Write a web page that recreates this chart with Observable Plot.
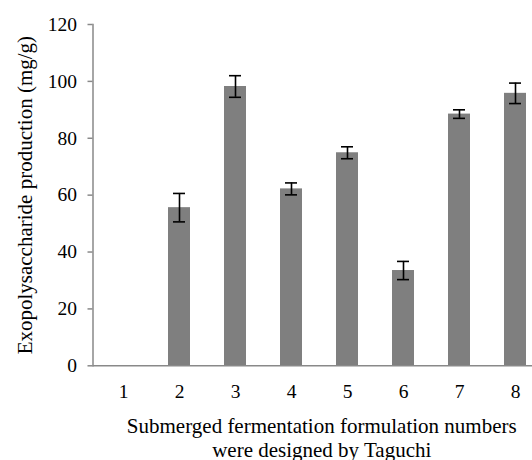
<!DOCTYPE html>
<html>
<head>
<meta charset="utf-8">
<script src="https://cdn.jsdelivr.net/npm/d3@7"></script>
<script src="https://cdn.jsdelivr.net/npm/@observablehq/plot@0.6"></script>
<style>
  html, body { margin: 0; padding: 0; background: #fff; }
  #chart { width: 532px; height: 460px; overflow: hidden; }
</style>
</head>
<body>
<div id="chart"></div>
<script>
const formulations = [1, 2, 3, 4, 5, 6, 7, 8];
const production = [0, 55.6, 98.2, 62.2, 74.9, 33.5, 88.5, 95.8];
const stdError = [0, 5.0, 3.8, 2.1, 2.1, 3.2, 1.5, 3.6];
const yTicks = [0, 20, 40, 60, 80, 100, 120];
const yTitle = "Exopolysaccharide production (mg/g)";
const xTitle = "Submerged fermentation formulation numbers\nwere designed by Taguchi";

const rows = formulations.map((f, i) => ({
  f, v: production[i], lo: production[i] - stdError[i], hi: production[i] + stdError[i], e: stdError[i]
}));
const errRows = rows.filter(d => d.e > 0);

const axisGray = "#898989";
const font = "'Liberation Serif', 'Times New Roman', serif";

const chart = Plot.plot({
  width: 532,
  height: 460,
  marginLeft: 92.5,
  marginRight: 0,
  marginTop: 24,
  marginBottom: 94.7,
  style: { fontFamily: font, fontSize: "19.5px", background: "#fff", color: "#000" },
  x: { type: "band", domain: formulations, range: [92.5, 546], paddingInner: 0.6, paddingOuter: 0.3, axis: null },
  y: { domain: [0, 120], axis: null },
  marks: [
    Plot.barY(rows, { x: "f", y: "v", fill: "#7f7f7f" }),
    Plot.ruleX(errRows, { x: "f", y1: "lo", y2: "hi", stroke: "#000", strokeWidth: 1.6 }),
    Plot.tickY(errRows, { x: "f", y: "lo", stroke: "#000", strokeWidth: 1.6, insetLeft: 5, insetRight: 5 }),
    Plot.tickY(errRows, { x: "f", y: "hi", stroke: "#000", strokeWidth: 1.6, insetLeft: 5, insetRight: 5 }),
    Plot.frame({ anchor: "left", stroke: axisGray, strokeWidth: 1.5 }),
    Plot.ruleY([0], { stroke: axisGray, strokeWidth: 1.5 }),
    Plot.axisY({ ticks: yTicks, tickSize: 5, stroke: axisGray, strokeWidth: 1.5, fill: "none", label: null }),
    Plot.text(yTicks, { y: d => d, frameAnchor: "left", textAnchor: "end", dx: -16, fontSize: 19.5, fill: "#000" }),
    Plot.text(formulations, { x: d => d, frameAnchor: "bottom", lineAnchor: "top", dy: 18, fontSize: 19.5, fill: "#000" }),
    Plot.text([yTitle], { frameAnchor: "left", textAnchor: "middle", rotate: -90, dx: -67.5, fontSize: 21, fill: "#000" }),
    Plot.text([xTitle], { frameAnchor: "bottom", textAnchor: "middle", lineAnchor: "top", dx: 9, dy: 50, lineHeight: 1.143, fontSize: 21, fill: "#000" })
  ]
});
document.getElementById("chart").appendChild(chart);
</script>
</body>
</html>
